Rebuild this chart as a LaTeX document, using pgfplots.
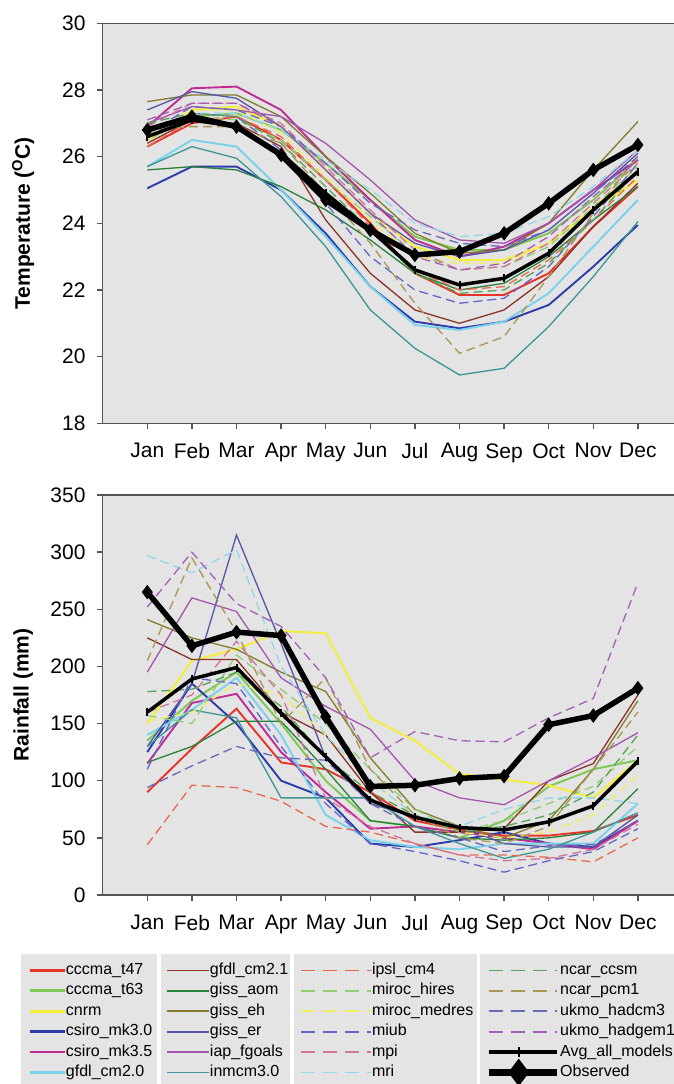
\documentclass[border=0pt]{standalone}
\usepackage{pgfplots}
\pgfplotsset{compat=1.18}
\usepackage{pgfplotstable}
\usepackage{fontspec}
\setmainfont{Liberation Sans}

\definecolor{bggrey}{RGB}{228,228,228}
\definecolor{framec}{RGB}{85,85,85}
\definecolor{cTa}{RGB}{232,52,40}
\definecolor{cTb}{RGB}{125,200,85}
\definecolor{cCnrm}{RGB}{245,238,55}
\definecolor{cMkA}{RGB}{45,60,170}
\definecolor{cMkB}{RGB}{190,45,150}
\definecolor{cCmA}{RGB}{120,210,235}
\definecolor{cCmB}{RGB}{140,50,40}
\definecolor{cAom}{RGB}{40,130,60}
\definecolor{cEh}{RGB}{130,125,45}
\definecolor{cEr}{RGB}{85,85,165}
\definecolor{cFg}{RGB}{165,85,175}
\definecolor{cInm}{RGB}{60,150,150}
\definecolor{cIpsl}{RGB}{232,105,80}
\definecolor{cMh}{RGB}{145,205,115}
\definecolor{cMm}{RGB}{240,238,95}
\definecolor{cMiub}{RGB}{100,100,205}
\definecolor{cMpi}{RGB}{210,115,155}
\definecolor{cMri}{RGB}{145,215,235}
\definecolor{cCcsm}{RGB}{85,165,85}
\definecolor{cPcm}{RGB}{170,150,85}
\definecolor{cHcA}{RGB}{105,105,185}
\definecolor{cHgA}{RGB}{165,95,185}

% rows = series, columns = months (Jan..Dec)
\pgfplotstableread{
name  m1    m2    m3    m4    m5    m6    m7    m8    m9    m10   m11   m12
tA    26.3  27.0  27.2  26.5  25.3  24.0  22.5  21.85 21.85 22.5  23.9  25.1
tB    26.5  27.2  27.3  26.8  25.8  24.7  23.6  23.2  23.2  23.7  24.7  25.9
cnrm  26.5  27.4  27.5  26.9  25.6  24.3  23.3  22.9  22.9  23.4  24.4  25.3
mkA   25.05 25.7  25.7  25.0  23.7  22.1  21.05 20.85 21.05 21.55 22.7  23.95
mkB   26.9  28.05 28.1  27.4  26.0  24.7  23.5  23.0  23.3  24.0  25.0  25.9
cmA   25.7  26.5  26.3  25.0  23.6  22.1  20.95 20.8  21.05 21.9  23.3  24.7
cmB   26.4  27.1  27.0  26.3  24.1  22.5  21.4  21.0  21.4  22.4  23.9  25.2
aom   25.6  25.7  25.6  25.1  24.4  23.5  22.5  22.0  22.2  23.0  24.1  25.1
eh    27.65 27.85 27.85 27.2  26.0  24.9  23.7  23.1  23.2  24.0  25.6  27.05
er    27.4  27.95 27.75 26.9  25.6  24.3  23.4  23.0  23.2  23.8  24.9  26.1
fg    27.0  27.5  27.4  27.2  26.4  25.3  24.1  23.5  23.4  24.0  25.0  26.2
inm   25.7  26.3  25.95 24.8  23.3  21.4  20.25 19.45 19.65 20.9  22.4  24.05
ipsl  26.3  27.1  27.2  26.6  25.3  23.9  22.6  22.0  22.1  22.9  24.1  25.4
mh    26.7  27.2  27.1  26.5  25.3  24.2  23.1  22.6  22.7  23.3  24.5  25.7
mm    26.6  27.4  27.4  26.7  25.4  24.1  23.0  22.8  22.8  23.4  24.5  25.6
miub  26.6  27.3  27.2  26.2  24.6  23.0  22.0  21.6  21.75 22.7  24.2  25.8
mpi   26.9  27.6  27.6  27.0  25.7  24.4  23.2  22.6  22.7  23.4  24.6  25.8
mri   26.8  27.3  27.3  26.8  25.9  25.0  24.0  23.6  23.7  24.2  25.1  26.2
ccsm  27.0  27.3  27.2  26.4  25.1  23.8  22.5  21.9  22.0  22.8  24.1  25.6
pcm   26.8  26.9  26.9  26.4  24.9  23.4  21.6  20.1  20.6  22.4  24.3  26.0
hcA   26.7  27.5  27.4  26.9  25.8  24.6  23.8  23.4  23.3  23.8  24.9  26.0
hgA   27.1  27.6  27.6  26.9  25.6  24.3  23.0  22.6  22.8  23.6  24.8  25.9
avg   26.6  27.1  26.9  26.1  24.9  23.8  22.6  22.15 22.35 23.1  24.4  25.55
obs   26.8  27.2  26.9  26.05 24.7  23.8  23.05 23.15 23.7  24.6  25.6  26.35
}\tempraw
\pgfplotstabletranspose[colnames from=name]{\temptab}{\tempraw}

\pgfplotstableread{
name  m1   m2   m3   m4   m5   m6   m7   m8   m9   m10  m11  m12
tA    90   128  163  116  110  90   65   57   52   52   56   70
tB    135  170  195  150  100  65   60   50   65   95   110  118
cnrm  150  205  215  231  229  155  135  106  101  96   85   118
mkA   125  185  150  100  85   45   42   48   55   45   42   65
mkB   115  168  176  125  90   58   60   55   50   45   40   65
cmA   140  162  190  140  70   48   42   40   45   45   45   80
cmB   225  206  206  160  140  90   55   55   58   100  115  175
aom   116  130  152  152  110  65   60   50   48   50   55   93
eh    241  225  215  195  178  120  75   60   50   65   110  170
er    130  185  315  220  120  80   68   60   45   42   42   70
fg    195  260  248  190  165  145  100  85   79   100  120  142
inm   130  162  155  85   85   85   60   45   32   40   55   72
ipsl  44   96   94   82   60   55   45   35   35   33   29   50
mh    157  150  210  180  150  110  75   55   65   80   95   130
mm    152  160  185  175  140  100  70   55   50   55   70   105
miub  110  190  185  130  80   45   38   30   20   30   38   58
mpi   160  175  222  175  85   60   45   35   30   32   40   62
mri   297  282  302  200  140  100  70   60   75   85   85   80
ccsm  178  180  195  165  120  90   70   55   60   70   90   140
pcm   205  295  230  150  190  110  70   50   45   60   110  160
hcA   94   113  130  120  118  80   60   50   38   43   44   65
hgA   252  300  255  235  190  120  143  135  134  155  172  273
avg   160  189  199  159  121  83   68   59   57   64   78   117
obs   265  218  230  227  156  95   96   102  104  149  157  181
}\rainraw
\pgfplotstabletranspose[colnames from=name]{\raintab}{\rainraw}

\pgfplotsset{
  ga/.style={line width=1.9pt},
  gb/.style={line width=1.3pt},
  gc/.style={line width=1.3pt, dash pattern=on 9pt off 5pt},
  avgstyle/.style={black, line width=3.5pt, mark=|, mark size=4pt, mark options={solid, line width=2pt}},
  obsstyle/.style={black, line width=5.5pt, mark=diamond*, mark size=6.5pt, mark options={solid, line width=1pt}},
  panel/.style={
    at={#1}, anchor=south west, scale only axis,
    width=579.8pt, height=400pt,
    xmin=0, xmax=13,
    xtick={1,...,12},
    xticklabels={Jan,Feb,Mar,Apr,May,Jun,Jul,Aug,Sep,Oct,Nov,Dec},
    xtick pos=bottom, ytick pos=left,
    tick align=outside, major tick length=6pt,
    axis background/.style={fill=bggrey},
    axis line style={framec, line width=1.4pt},
    tick style={framec, line width=1.3pt},
    tick label style={font=\fontsize{21}{25}\selectfont, inner sep=0pt},
    /pgf/number format/assume math mode=true,
    xticklabel style={anchor=north, yshift=-14pt},
    yticklabel style={anchor=east, xshift=-11pt},
    every axis y label/.style={at={(axis description cs:-0.137,0.5)}, rotate=90, anchor=center,
      font=\fontsize{21}{25}\selectfont\bfseries},
    clip=false,
  },
  legaxis/.style={
    at={(0pt,0pt)}, anchor=south west, scale only axis,
    width=674pt, height=1084pt, xmin=0, xmax=1, ymin=0, ymax=1, hide axis,
    legend cell align=left,
    legend style={at={(#1/674,124/1084)}, anchor=north west, draw=none, fill=none,
      inner sep=0pt, row sep=0pt, font=\fontsize{16}{18}\selectfont,
      nodes={inner xsep=0pt, inner ysep=2.7pt, text height=11.5pt, text depth=3.5pt}},
  },
}

\newcommand\allmodels[1]{%
  \addplot[cTa, ga] table[x expr=\coordindex+1, y=tA] {#1};
  \addplot[cTb, ga] table[x expr=\coordindex+1, y=tB] {#1};
  \addplot[cCnrm, ga] table[x expr=\coordindex+1, y=cnrm] {#1};
  \addplot[cMkA, ga] table[x expr=\coordindex+1, y=mkA] {#1};
  \addplot[cMkB, ga] table[x expr=\coordindex+1, y=mkB] {#1};
  \addplot[cCmA, ga] table[x expr=\coordindex+1, y=cmA] {#1};
  \addplot[cCmB, gb] table[x expr=\coordindex+1, y=cmB] {#1};
  \addplot[cAom, gb] table[x expr=\coordindex+1, y=aom] {#1};
  \addplot[cEh, gb] table[x expr=\coordindex+1, y=eh] {#1};
  \addplot[cEr, gb] table[x expr=\coordindex+1, y=er] {#1};
  \addplot[cFg, gb] table[x expr=\coordindex+1, y=fg] {#1};
  \addplot[cInm, gb] table[x expr=\coordindex+1, y=inm] {#1};
  \addplot[cIpsl, gc] table[x expr=\coordindex+1, y=ipsl] {#1};
  \addplot[cMh, gc] table[x expr=\coordindex+1, y=mh] {#1};
  \addplot[cMm, gc] table[x expr=\coordindex+1, y=mm] {#1};
  \addplot[cMiub, gc] table[x expr=\coordindex+1, y=miub] {#1};
  \addplot[cMpi, gc] table[x expr=\coordindex+1, y=mpi] {#1};
  \addplot[cMri, gc] table[x expr=\coordindex+1, y=mri] {#1};
  \addplot[cCcsm, gc] table[x expr=\coordindex+1, y=ccsm] {#1};
  \addplot[cPcm, gc] table[x expr=\coordindex+1, y=pcm] {#1};
  \addplot[cHcA, gc] table[x expr=\coordindex+1, y=hcA] {#1};
  \addplot[cHgA, gc] table[x expr=\coordindex+1, y=hgA] {#1};
  \addplot[avgstyle] table[x expr=\coordindex+1, y=avg] {#1};
  \addplot[obsstyle] table[x expr=\coordindex+1, y=obs] {#1};
}

\begin{document}
\begin{tikzpicture}
% legend background boxes
\fill[bggrey] (21pt,0pt) rectangle (157pt,130pt);
\fill[bggrey] (161pt,0pt) rectangle (290pt,130pt);
\fill[bggrey] (294pt,0pt) rectangle (477pt,130pt);
\fill[bggrey] (480pt,0pt) rectangle (680pt,130pt);

% temperature
\begin{axis}[panel={(102.7pt,660.7pt)},
  ymin=18, ymax=30, ytick={18,20,...,30},
  ylabel={Temperature (\textsuperscript{O}C)}]
\allmodels{\temptab}
\end{axis}

% rainfall
\begin{axis}[panel={(102.7pt,189pt)},
  ymin=0, ymax=350, ytick={0,50,...,350},
  ylabel={Rainfall (mm)}]
\allmodels{\raintab}
\end{axis}

% legend column 1
\begin{axis}[legaxis=28,
  legend image code/.code={\draw[#1] (0pt,0pt) -- (26pt,0pt); \path (0pt,0pt) -- (35pt,0pt);}]
\addlegendimage{cTa, line width=2.8pt}\addlegendentry{cccma\_t47}
\addlegendimage{cTb, line width=2.8pt}\addlegendentry{cccma\_t63}
\addlegendimage{cCnrm, line width=2.8pt}\addlegendentry{cnrm}
\addlegendimage{cMkA, line width=2.8pt}\addlegendentry{csiro\_mk3.0}
\addlegendimage{cMkB, line width=2.8pt}\addlegendentry{csiro\_mk3.5}
\addlegendimage{cCmA, line width=2.8pt}\addlegendentry{gfdl\_cm2.0}
\end{axis}

% legend column 2
\begin{axis}[legaxis=166,
  legend image code/.code={\draw[#1] (0pt,0pt) -- (32pt,0pt); \path (0pt,0pt) -- (42pt,0pt);}]
\addlegendimage{cCmB, line width=1.8pt}\addlegendentry{gfdl\_cm2.1}
\addlegendimage{cAom, line width=1.8pt}\addlegendentry{giss\_aom}
\addlegendimage{cEh, line width=1.8pt}\addlegendentry{giss\_eh}
\addlegendimage{cEr, line width=1.8pt}\addlegendentry{giss\_er}
\addlegendimage{cFg, line width=1.8pt}\addlegendentry{iap\_fgoals}
\addlegendimage{cInm, line width=1.8pt}\addlegendentry{inmcm3.0}
\end{axis}

% legend column 3
\begin{axis}[legaxis=300,
  legend image code/.code={\draw[#1] (0pt,0pt) -- (58pt,0pt); \path (0pt,0pt) -- (70pt,0pt);}]
\addlegendimage{cIpsl, line width=1.8pt, dash pattern=on 14pt off 8pt}\addlegendentry{ipsl\_cm4}
\addlegendimage{cMh, line width=1.8pt, dash pattern=on 14pt off 8pt}\addlegendentry{miroc\_hires}
\addlegendimage{cMm, line width=1.8pt, dash pattern=on 14pt off 8pt}\addlegendentry{miroc\_medres}
\addlegendimage{cMiub, line width=1.8pt, dash pattern=on 14pt off 8pt}\addlegendentry{miub}
\addlegendimage{cMpi, line width=1.8pt, dash pattern=on 14pt off 8pt}\addlegendentry{mpi}
\addlegendimage{cMri, line width=1.8pt, dash pattern=on 14pt off 8pt}\addlegendentry{mri}
\end{axis}

% legend column 4
\begin{axis}[legaxis=485,
  legend image code/.code={\draw[mark repeat=2, mark phase=2, #1] plot coordinates {(0pt,0pt) (30pt,0pt) (60pt,0pt)}; \path (0pt,0pt) -- (68pt,0pt);}]
\addlegendimage{cCcsm, line width=1.8pt, dash pattern=on 14pt off 8pt}\addlegendentry{ncar\_ccsm}
\addlegendimage{cPcm, line width=1.8pt, dash pattern=on 14pt off 8pt}\addlegendentry{ncar\_pcm1}
\addlegendimage{cHcA, line width=1.8pt, dash pattern=on 14pt off 8pt}\addlegendentry{ukmo\_hadcm3}
\addlegendimage{cHgA, line width=1.8pt, dash pattern=on 14pt off 8pt}\addlegendentry{ukmo\_hadgem1}
\addlegendimage{black, line width=4pt, mark=|, mark size=5pt, mark options={line width=2pt}}\addlegendentry{Avg\_all\_models}
\addlegendimage{black, line width=7pt, mark=diamond*, mark size=8pt}\addlegendentry{Observed}
\end{axis}

\pgfresetboundingbox
\path[use as bounding box] (0pt,0pt) rectangle (674pt,1084pt);
\end{tikzpicture}
\end{document}
